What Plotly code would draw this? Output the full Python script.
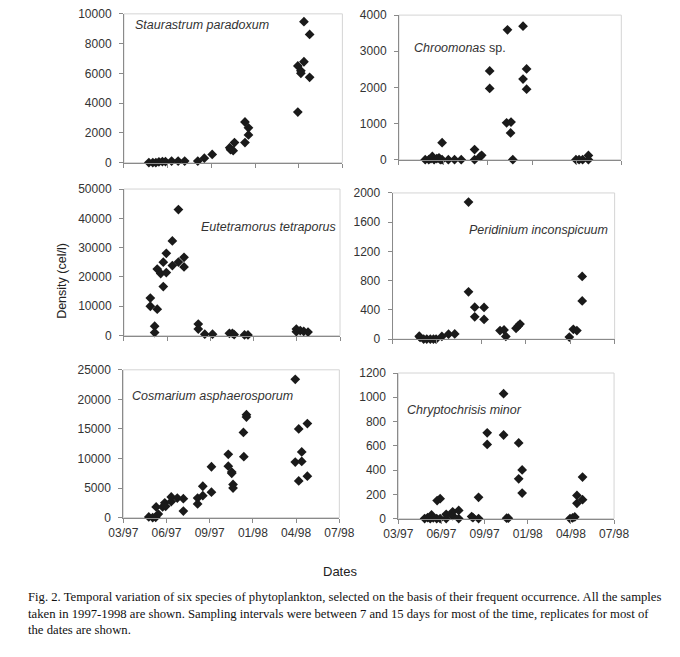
import plotly.graph_objects as go

W, H = 680, 657

# ---------------- data ----------------
x_tick_dates = ["1997-03-11", "1997-06-19", "1997-09-27", "1998-01-05", "1998-04-15", "1998-07-24"]
x_tick_labels = ["03/97", "06/97", "09/97", "01/98", "04/98", "07/98"]

stau_dates = ["1997-05-07", "1997-05-16", "1997-05-23", "1997-05-30", "1997-06-07", "1997-06-14",
              "1997-06-28", "1997-07-13", "1997-07-28", "1997-08-27", "1997-09-11", "1997-09-29",
              "1997-11-08", "1997-11-10", "1997-11-16", "1997-11-19", "1997-12-13", "1997-12-13",
              "1997-12-21", "1997-12-21", "1998-04-13", "1998-04-13", "1998-04-20", "1998-04-20",
              "1998-04-27", "1998-04-27", "1998-05-10", "1998-05-10"]
stau_vals = [0, 0, 0, 50, 70, 70, 100, 100, 100, 100, 300, 550, 1000, 870, 800, 1350, 2730, 1350,
             2340, 1860, 3400, 6500, 6170, 6000, 6780, 9470, 8620, 5730]

chro_dates = ["1997-05-09", "1997-05-17", "1997-05-22", "1997-05-25", "1997-05-29", "1997-06-04",
              "1997-06-09", "1997-06-12", "1997-06-16", "1997-06-16", "1997-06-30", "1997-07-14",
              "1997-07-29", "1997-08-28", "1997-08-28", "1997-09-10", "1997-09-13", "1997-10-01",
              "1997-10-01", "1997-11-10", "1997-11-08", "1997-11-18", "1997-11-17", "1997-11-22",
              "1997-12-15", "1997-12-15", "1997-12-23", "1997-12-23", "1998-04-13", "1998-04-20",
              "1998-04-28", "1998-05-11", "1998-05-11"]
chro_vals = [0, 0, 30, 90, 0, 30, 50, 0, 470, 0, 0, 0, 0, 280, 0, 90, 120, 2456, 1970, 3594, 1020,
             1040, 740, 0, 3693, 2230, 2510, 1950, 0, 0, 0, 117, 0]

eute_dates = ["1997-05-11", "1997-05-11", "1997-05-21", "1997-05-21", "1997-05-27", "1997-05-27",
              "1997-06-04", "1997-06-10", "1997-06-10", "1997-06-17", "1997-06-17", "1997-07-01",
              "1997-07-01", "1997-07-15", "1997-07-15", "1997-07-28", "1997-07-28", "1997-08-30",
              "1997-08-30", "1997-09-14", "1997-10-02", "1997-11-10", "1997-11-17", "1997-11-21",
              "1997-12-15", "1997-12-23", "1998-04-14", "1998-04-14", "1998-04-23", "1998-05-01",
              "1998-05-11"]
eute_vals = [12800, 10000, 3200, 1000, 22700, 9000, 21160, 16700, 25050, 21500, 28060, 32300, 23900,
             43000, 25060, 26700, 23400, 3900, 2200, 450, 450, 780, 780, 330, 220, 220, 2200, 1300,
             1700, 1450, 1200]

peri_dates = ["1997-05-10", "1997-05-12", "1997-05-20", "1997-05-27", "1997-06-04", "1997-06-11",
              "1997-06-17", "1997-06-30", "1997-07-15", "1997-07-29", "1997-08-29", "1997-08-29",
              "1997-09-12", "1997-09-12", "1997-10-03", "1997-10-03", "1997-11-08", "1997-11-17",
              "1997-11-21", "1997-12-14", "1997-12-19", "1997-12-23", "1998-04-13", "1998-04-22",
              "1998-04-30", "1998-05-12", "1998-05-12"]
peri_vals = [40, 22, 0, 0, 0, 0, 0, 36, 67, 71, 1875, 647, 437, 304, 433, 268, 116, 125, 36, 147, 179,
             205, 27, 134, 116, 857, 522]

cosm_dates = ["1997-05-09", "1997-05-18", "1997-05-25", "1997-05-26", "1997-05-31", "1997-06-10",
              "1997-06-15", "1997-06-17", "1997-06-30", "1997-06-30", "1997-07-14", "1997-07-28",
              "1997-07-28", "1997-08-30", "1997-08-30", "1997-09-11", "1997-09-11", "1997-10-01",
              "1997-10-01", "1997-11-09", "1997-11-09", "1997-11-17", "1997-11-17", "1997-11-20",
              "1997-11-20", "1997-12-14", "1997-12-15", "1997-12-21", "1997-12-21", "1998-04-13",
              "1998-04-13", "1998-04-21", "1998-04-21", "1998-04-28", "1998-04-28", "1998-05-11",
              "1998-05-11"]
cosm_vals = [110, 0, 50, 1800, 600, 1800, 2500, 1900, 3500, 2700, 3300, 3200, 1100, 3300, 2300, 5300,
             3700, 8600, 4300, 10700, 8700, 7700, 7500, 5600, 5000, 14400, 10300, 17400, 17000, 23400,
             9400, 15000, 6200, 11100, 9500, 15900, 7000]

chry_dates = ["1997-05-11", "1997-05-18", "1997-05-24", "1997-05-27", "1997-05-31", "1997-06-08",
              "1997-06-09", "1997-06-16", "1997-06-16", "1997-06-30", "1997-06-30", "1997-07-15",
              "1997-07-15", "1997-07-29", "1997-07-29", "1997-08-28", "1997-08-31", "1997-09-13",
              "1997-09-13", "1997-10-03", "1997-10-03", "1997-11-10", "1997-11-10", "1997-11-17",
              "1997-11-21", "1997-12-15", "1997-12-15", "1997-12-23", "1997-12-23", "1998-04-13",
              "1998-04-19", "1998-04-24", "1998-04-29", "1998-04-29", "1998-05-12", "1998-05-12"]
chry_vals = [0, 8, 0, 30, 5, 0, 148, 164, 0, 0, 35, 56, 24, 67, 0, 16, 8, 175, 0, 707, 611, 1030, 689,
             3, 3, 624, 328, 401, 210, 0, 5, 13, 191, 126, 342, 156]

species_names = ["<i>Staurastrum paradoxum</i>", "<i>Chroomonas</i> sp.",
                 "<i>Eutetramorus tetraporus</i>", "<i>Peridinium inconspicuum</i>",
                 "<i>Cosmarium asphaerosporum</i>", "<i>Chryptochrisis minor</i>"]
y_max = [10000, 4000, 50000, 2000, 25000, 1200]
y_step = [2000, 1000, 10000, 400, 5000, 200]

caption_lines = [
    "Fig. 2. Temporal variation of six species of phytoplankton, selected on the basis of their frequent occurrence. All the samples",
    "taken in 1997-1998 are shown. Sampling intervals were between 7 and 15 days for most of the time, replicates for most of",
    "the dates are shown.",
]

series = [(stau_dates, stau_vals), (chro_dates, chro_vals), (eute_dates, eute_vals),
          (peri_dates, peri_vals), (cosm_dates, cosm_vals), (chry_dates, chry_vals)]

# ---------------- layout geometry (pixels) ----------------
panels_px = [  # x0, x1, ytop, ybottom
    (114, 342.5, 7, 159),
    (401.7, 634.3, 8.3, 156),
    (114, 340, 186, 335.7),
    (395, 627.3, 190, 339.3),
    (113.3, 339.3, 370.7, 521.7),
    (401, 626.7, 374, 522.7),
]
label_px = [  # left x, center y
    (123, 18), (415, 42), (193, 225), (472.5, 228), (120, 397), (407.5, 411.5)
]

FONT = "Liberation Sans, Arial, sans-serif"
fig = go.Figure()
layout = dict(
    width=W, height=H, margin=dict(l=0, r=0, t=0, b=0),
    paper_bgcolor="white", plot_bgcolor="white", showlegend=False,
    font=dict(family=FONT, size=12, color="#333333"),
)
shapes = []
annotations = []
for i, ((xd, yv), (x0, x1, yt, yb)) in enumerate(zip(series, panels_px)):
    n = "" if i == 0 else str(i + 1)
    fig.add_trace(go.Scatter(
        x=xd, y=yv, mode="markers", xaxis="x" + n, yaxis="y" + n, cliponaxis=False,
        marker=dict(symbol="diamond", size=7.5, color="#1a1a1a", line=dict(width=0)),
    ))
    bottom = i >= 4
    layout["xaxis" + n] = dict(
        type="date", domain=[x0 / W, x1 / W], anchor="y" + n,
        range=[x_tick_dates[0], x_tick_dates[-1]],
        tickmode="array", tickvals=x_tick_dates, ticktext=x_tick_labels,
        showticklabels=bottom, ticks="outside", ticklen=4, tickcolor="#8a8a8a",
        showline=True, linecolor="#8a8a8a", linewidth=1, showgrid=False, zeroline=False,
        tickfont=dict(size=12, color="#333333"),
    )
    layout["yaxis" + n] = dict(
        domain=[1 - yb / H, 1 - yt / H], anchor="x" + n,
        range=[0, y_max[i]], tickmode="linear", tick0=0, dtick=y_step[i], tickformat="d",
        ticks="outside", ticklen=4, tickcolor="#8a8a8a", ticklabelstandoff=5,
        showline=True, linecolor="#8a8a8a", linewidth=1, showgrid=False, zeroline=False,
        tickfont=dict(size=12, color="#333333"),
    )
    shapes.append(dict(type="rect", xref="x" + n + " domain", yref="y" + n + " domain",
                       x0=0, x1=1, y0=0, y1=1, line=dict(color="#d4d4d4", width=1), layer="below"))
    lx, ly = label_px[i]
    annotations.append(dict(text=species_names[i], xref="paper", yref="paper", x=lx / W, y=1 - ly / H,
                            xanchor="left", yanchor="middle", showarrow=False,
                            font=dict(family=FONT, size=12.5, color="#333333")))

annotations.append(dict(text="Density (cel/l)", xref="paper", yref="paper", x=49 / W, y=1 - 280 / H,
                        textangle=-90, xanchor="center", yanchor="middle", showarrow=False,
                        font=dict(family=FONT, size=12.5, color="#222222")))
annotations.append(dict(text="Dates", xref="paper", yref="paper", x=340 / W, y=1 - 577 / H,
                        xanchor="center", yanchor="middle", showarrow=False,
                        font=dict(family=FONT, size=13, color="#222222")))
for k, line in enumerate(caption_lines):
    annotations.append(dict(text=line, xref="paper", yref="paper", x=12 / W, y=1 - (603 + 17 * k) / H,
                            xanchor="left", yanchor="middle", showarrow=False,
                            font=dict(family="Liberation Serif, Times New Roman, serif", size=12.7,
                                      color="#111111")))

layout["shapes"] = shapes
layout["annotations"] = annotations
fig.update_layout(**layout)
fig.write_html("out.html", config={"displayModeBar": False},
               post_script="document.body.style.margin='0';document.body.style.overflow='hidden';")
